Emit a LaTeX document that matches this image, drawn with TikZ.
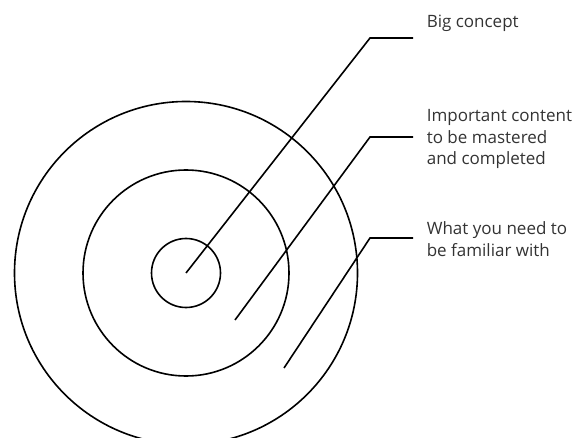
\documentclass[tikz,border=0pt]{standalone}
\usepackage{fontspec}
\setmainfont{Open Sans}
\usepackage{tikz}

\begin{document}
\begin{tikzpicture}[x=1pt, y=-1pt, line width=1.6pt,
    ring/.style={draw, circle, inner sep=0pt},
    label/.style={anchor=base west, align=left, inner sep=0pt,
                  font=\fontsize{17}{21.7}\selectfont, text=black!80}]

    \useasboundingbox (0,0) rectangle (575,438);

    % Rings of the target
    \node[ring, minimum size=343] (outer)  at (186,273) {};
    \node[ring, minimum size=206] (middle) at (186,273) {};
    \node[ring, minimum size=69]  (inner)  at (186,273) {};

    \coordinate (s1) at (inner.center);  % start of each leader
    \coordinate (s2) at (235,320);
    \coordinate (s3) at (284,368);
    \coordinate (b1) at (370,38);        % bend points
    \coordinate (b2) at (370,137);
    \coordinate (b3) at (370,238);
    \coordinate (e1) at (413,38);        % ends of the leaders
    \coordinate (e2) at (413,137);
    \coordinate (e3) at (413,238);

    % Leaders
    \draw (s1) -- (b1) -- (e1);
    \draw (s2) -- (b2) -- (e2);
    \draw (s3) -- (b3) -- (e3);

    % Labels (base = last line)
    \node[label] (big)      at (426,28)    {Big concept};
    \node[label] (content)  at (426,165)   {Important content\\to be mastered\\and completed};
    \node[label] (familiar) at (426,256.7) {What you need to\\be familiar with};

\end{tikzpicture}
\end{document}
